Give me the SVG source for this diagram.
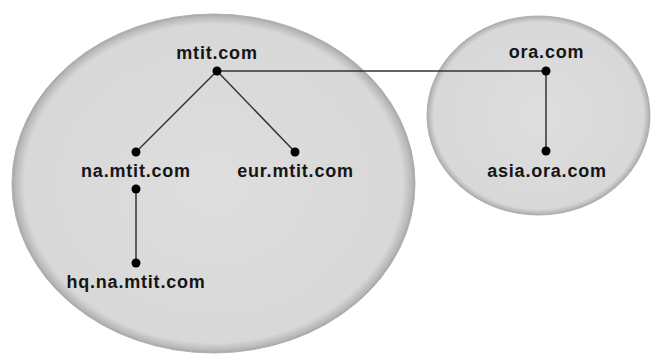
<svg xmlns="http://www.w3.org/2000/svg" width="651" height="354" viewBox="0 0 651 354">
<defs>
<radialGradient id="zone" cx="0.5" cy="0.5" r="0.5">
<stop offset="0" stop-color="#dedede"/>
<stop offset="0.94" stop-color="#d8d8d8"/>
<stop offset="0.985" stop-color="#b8b8b8"/>
<stop offset="1" stop-color="#a4a4a4"/>
</radialGradient>
<style>
.zone{fill:url(#zone);stroke:#b0b0b0;stroke-width:1}
.lbl{font-family:"Liberation Sans",Arial,sans-serif;font-weight:bold;font-size:18px;letter-spacing:0.8px;fill:#151515;text-anchor:middle}
.dot{fill:#000}
.conn line{stroke:#333;stroke-width:1.5}
</style>
</defs>
<rect width="651" height="354" fill="#fff"/>
<ellipse id="zone-mtit" class="zone" cx="213.5" cy="183.5" rx="201.5" ry="169.5"/>
<ellipse id="zone-ora" class="zone" cx="538.5" cy="115.5" rx="111.5" ry="99.5"/>
<g id="connectors" class="conn">
<line x1="217" y1="71" x2="546" y2="71"/>
<line x1="217" y1="71" x2="136" y2="152"/>
<line x1="217" y1="71" x2="295" y2="152"/>
<line x1="136" y1="189" x2="136" y2="263"/>
<line x1="546" y1="71" x2="546" y2="151"/>
</g>
<g id="mtit">
<circle class="dot" cx="217" cy="71" r="4.5"/>
<text class="lbl" x="217" y="59">mtit.com</text>
</g>
<g id="na-mtit">
<circle class="dot" cx="136" cy="152" r="4.5"/>
<circle class="dot" cx="136" cy="189" r="4.5"/>
<text class="lbl" x="136" y="177">na.mtit.com</text>
</g>
<g id="eur-mtit">
<circle class="dot" cx="295" cy="152" r="4.5"/>
<text class="lbl" x="295.5" y="177">eur.mtit.com</text>
</g>
<g id="hq-na-mtit">
<circle class="dot" cx="136" cy="263" r="4.5"/>
<text class="lbl" x="136" y="288">hq.na.mtit.com</text>
</g>
<g id="ora">
<circle class="dot" cx="546" cy="71" r="4.5"/>
<text class="lbl" x="546.5" y="58">ora.com</text>
</g>
<g id="asia-ora">
<circle class="dot" cx="546" cy="151" r="4.5"/>
<text class="lbl" x="547" y="177">asia.ora.com</text>
</g>
</svg>
